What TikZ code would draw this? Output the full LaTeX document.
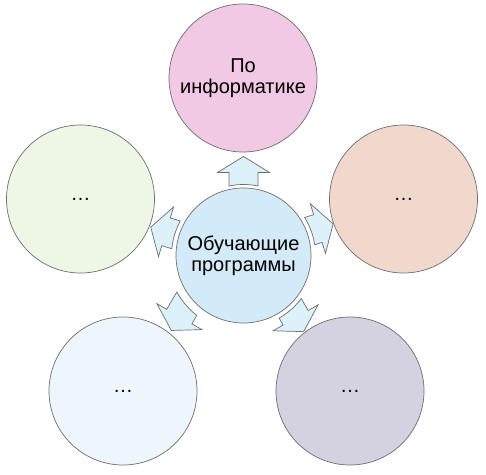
\documentclass[tikz,border=0pt]{standalone}
\usepackage{fontspec}
\setmainfont{Liberation Sans}
\usetikzlibrary{positioning}

\definecolor{rimgray}{HTML}{6E6E6E}
\definecolor{centerblue}{HTML}{D3EAF8}
\definecolor{arrowblue}{HTML}{DDF1FB}
\definecolor{topfill}{HTML}{F2C9E5}
\definecolor{leftfill}{HTML}{EEF6E6}
\definecolor{rightfill}{HTML}{F0D9CC}
\definecolor{blfill}{HTML}{EEF6FC}
\definecolor{brfill}{HTML}{D4D1E1}

\begin{document}
\begin{tikzpicture}[x=1pt, y=1pt,
    font=\fontsize{20}{21}\selectfont,
    bubble/.style = {circle, draw=rimgray, line width=0.7pt, minimum size=148pt,
                     inner sep=0pt, align=center},
    hub/.style = {bubble, fill=centerblue, minimum size=135pt},
    blockarrow/.style = {draw=rimgray, fill=arrowblue, line width=0.7pt, line join=miter}]
    \useasboundingbox (0,0) rectangle (486,474);

    % arrows first, circles on top
    % direction / side offset / head base / tail radius
    \foreach \ang/\off/\hb/\rt in {90/0/83/71, 163/0/81/72, 17/-4/79/72,
                                   240/25/85/76, 300/-14/80/72}
        \draw[blockarrow, shift={(243.5,218.5)}, rotate=\ang-90]
            ({acos((\off+14.5)/\rt)}:\rt)
            arc[start angle={acos((\off+14.5)/\rt)}, end angle={acos((\off-14.5)/\rt)}, radius=\rt]
            -- (\off-14.5,\hb) -- (\off-26,\hb) -- (\off,\hb+16)
            -- (\off+26,\hb) -- (\off+14.5,\hb) -- cycle;

    \node [hub] (prog) at (243.5,218.5) {Обучающие\\программы};
    \node [bubble, fill=topfill] (inf) at (243,396) {По\\информатике};
    \node [bubble, fill=leftfill] (left) at (80.5,275) {\ldots};
    \node [bubble, fill=rightfill] (right) at (403.5,275) {\ldots};
    \node [bubble, fill=blfill] (botleft) at (123,83) {\ldots};
    \node [bubble, fill=brfill] (botright) at (350,83) {\ldots};
\end{tikzpicture}
\end{document}
